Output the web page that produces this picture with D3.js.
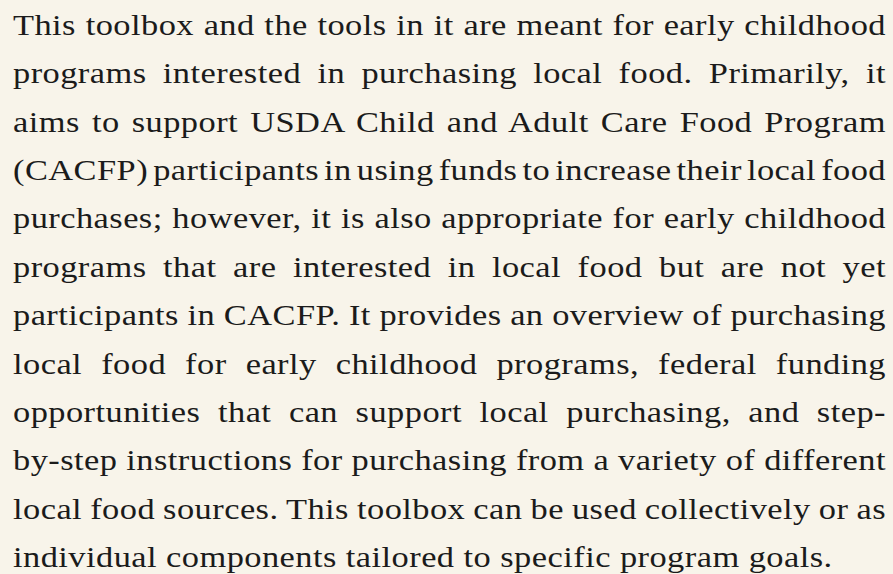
<!DOCTYPE html>
<html lang="en">
<head>
  <meta charset="UTF-8" />
  <title>Local food toolbox</title>
  <script src="https://d3js.org/d3.v7.min.js"></script>
  <style>
    html, body {
      margin: 0;
      padding: 0;
      background: #f8f4ea;
    }
    svg text {
      font-family: "Liberation Serif", "DejaVu Serif", serif;
      fill: #1b1b1b;
    }
  </style>
</head>
<body>
  <svg id="chart" width="893" height="574"></svg>
<script>
// one entry per printed line, in order
const lines = [
  "This toolbox and the tools in it are meant for early childhood",
  "programs interested in purchasing local food. Primarily, it",
  "aims to support USDA Child and Adult Care Food Program",
  "(CACFP) participants in using funds to increase their local food",
  "purchases; however, it is also appropriate for early childhood",
  "programs that are interested in local food but are not yet",
  "participants in CACFP. It provides an overview of purchasing",
  "local food for early childhood programs, federal funding",
  "opportunities that can support local purchasing, and step-",
  "by-step instructions for purchasing from a variety of different",
  "local food sources. This toolbox can be used collectively or as",
  "individual components tailored to specific program goals."
];
// the last line is left ragged, the rest are justified
const justified = lines.map((d, i) => i < lines.length - 1);

const svg = d3.select("#chart");
const width = +svg.attr("width"), height = +svg.attr("height");
const margin = {left: 13, right: 7, top: 35, bottom: 7};

const y = d3.scalePoint()
  .domain(d3.range(lines.length))
  .range([margin.top, height - margin.bottom]);

const fontSize = 30.5;
const tracking = 0.4;

// the print face is wider than Times: stretch the block a little
// so that the ragged last line is about as long as in the print
const last = lines[lines.length - 1];
const probe = svg.append("text")
  .style("font-size", fontSize + "px")
  .style("letter-spacing", tracking + "px")
  .text(last);
const sx = 820 / probe.node().getComputedTextLength();
probe.remove();

const boxWidth = (width - margin.left - margin.right) / sx;

const g = svg.append("g")
  .attr("transform", `translate(${margin.left},0) scale(${sx},1)`);

const rows = g.selectAll("text.line")
  .data(lines)
  .enter()
  .append("text")
  .attr("class", "line")
  .attr("x", 0)
  .attr("y", (d, i) => y(i))
  .style("font-size", fontSize + "px")
  .style("letter-spacing", tracking + "px")
  .attr("xml:space", "preserve")
  .text(d => d);

rows.each(function(d, i) {
  if (!justified[i]) return;
  const natural = this.getComputedTextLength();
  const gaps = d.split(" ").length - 1;
  if (gaps > 0) d3.select(this).style("word-spacing", (boxWidth - natural) / gaps + "px");
});
</script>
</body>
</html>
